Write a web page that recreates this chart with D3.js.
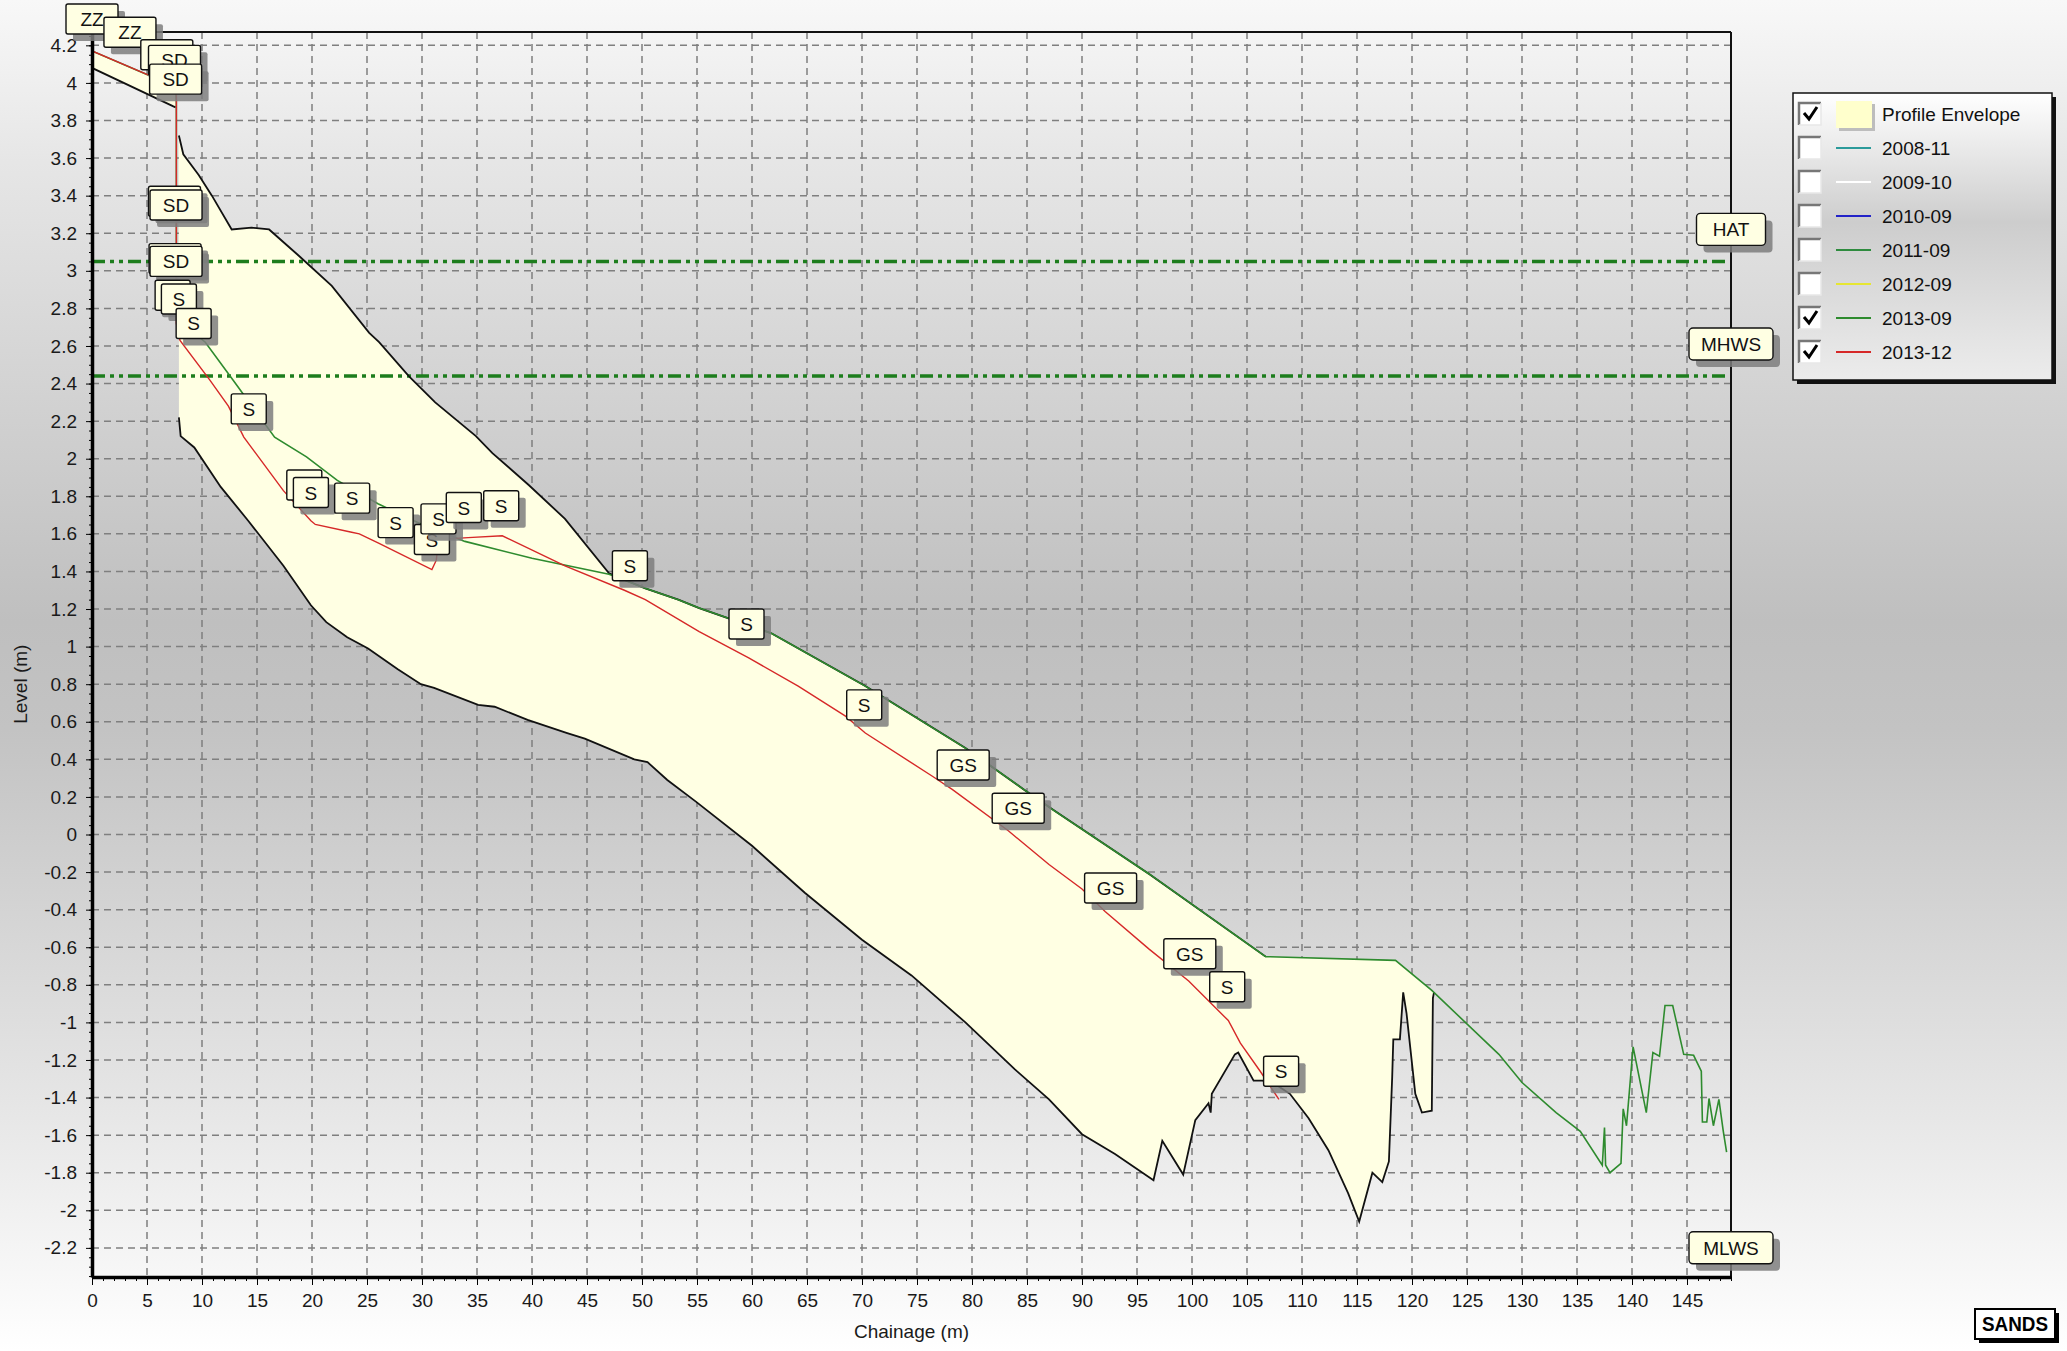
<!DOCTYPE html>
<html>
<head>
<meta charset="utf-8">
<script src="https://cdn.jsdelivr.net/npm/d3@7"></script>
<style>
body { margin: 0; overflow: hidden; background: #fff; }
text { font-family: "Liberation Sans", Arial, sans-serif; }
</style>
</head>
<body>
<svg id="chart" width="2067" height="1351"></svg>
<script>
// profile envelope (top-left wedge and main body)
var envWedgeTop = [[0, 4.17], [5.2, 4.04], [7.6, 3.98]];
var envWedgeBottom = [[0, 4.08], [7.4, 3.875], [7.6, 3.87]];
var envTop = [[7.9, 3.72], [8.3, 3.62], [9.7, 3.51], [10.9, 3.40], [12.7, 3.22], [14.5, 3.23], [16.1, 3.22],
    [18.8, 3.08], [21.8, 2.92], [25.2, 2.67], [26.1, 2.62], [28.8, 2.44], [31.2, 2.30], [34.9, 2.12], [36.4, 2.03],
    [39.7, 1.86], [43.0, 1.68], [47.0, 1.39], [50.3, 1.31], [53.3, 1.25], [55.2, 1.205], [61.8, 1.07], [70.3, 0.79],
    [79.4, 0.46], [84.8, 0.236], [87.4, 0.13], [96.1, -0.21], [106.7, -0.65], [118.5, -0.67], [121.8, -0.83], [122.0, -0.84]];
var envBottom = [[7.9, 2.22], [8.06, 2.12], [9.3, 2.06], [11.7, 1.85], [14.2, 1.67], [17.4, 1.43], [19.9, 1.22],
    [21.3, 1.13], [23.2, 1.05], [25.1, 0.99], [27.8, 0.88], [29.9, 0.80], [31.1, 0.78], [35.1, 0.69], [36.6, 0.68],
    [39.6, 0.61], [43.2, 0.54], [44.8, 0.51], [49.3, 0.40], [50.5, 0.385], [52.3, 0.29], [54.9, 0.175], [60.0, -0.06],
    [64.8, -0.31], [70.0, -0.56], [74.5, -0.75], [79.4, -1.0], [83.9, -1.25], [87.0, -1.41], [90.0, -1.595],
    [93.0, -1.70], [96.5, -1.84], [97.3, -1.63], [99.2, -1.81], [100.3, -1.52], [101.5, -1.43], [101.7, -1.48],
    [101.8, -1.38], [103.9, -1.17], [104.2, -1.16], [105.6, -1.31], [106.4, -1.31], [107.6, -1.33], [108.9, -1.38],
    [110.6, -1.51], [112.4, -1.68], [114.2, -1.91], [115.2, -2.06], [116.4, -1.80], [117.3, -1.85], [117.9, -1.74],
    [118.2, -1.29], [118.3, -1.09], [118.9, -1.09], [119.2, -0.84], [119.5, -0.95], [120.3, -1.38], [120.9, -1.48],
    [121.8, -1.47], [121.9, -0.87], [122.0, -0.84]];

// visible profiles
var prof201309 = [[0, 4.17], [5.2, 4.04], [7.6, 3.98], [7.67, 3.9], [7.67, 2.75], [8.6, 2.70], [10.3, 2.62],
    [12.8, 2.42], [16.6, 2.115], [19.5, 2.01], [22.3, 1.885], [26.0, 1.76], [30.0, 1.65], [33.9, 1.56], [40.0, 1.47],
    [47.0, 1.385], [50.3, 1.31], [53.3, 1.25], [55.2, 1.205], [61.8, 1.07], [70.3, 0.79], [79.4, 0.46], [84.8, 0.236],
    [87.4, 0.13], [96.1, -0.21], [106.7, -0.65], [118.5, -0.67], [121.8, -0.83], [127.9, -1.17], [130.0, -1.32],
    [133.1, -1.48], [135.3, -1.58], [137.3, -1.76], [137.5, -1.56], [137.6, -1.76], [138.0, -1.80], [139.0, -1.75],
    [139.2, -1.46], [139.5, -1.55], [140.1, -1.13], [141.3, -1.48], [141.9, -1.16], [142.5, -1.18], [143.0, -0.91],
    [143.7, -0.91], [144.7, -1.17], [145.6, -1.175], [146.3, -1.26], [146.4, -1.53], [146.8, -1.53], [147.0, -1.405],
    [147.4, -1.55], [147.9, -1.41], [148.3, -1.58], [148.6, -1.69]];
var prof201312 = [[0, 4.17], [5.2, 4.04], [7.6, 3.98], [7.67, 3.96], [7.67, 2.72], [8.0, 2.63], [10.7, 2.42],
    [12.4, 2.28], [13.8, 2.115], [17.4, 1.83], [19.9, 1.67], [20.3, 1.65], [23.5, 1.61], [24.3, 1.60], [26.1, 1.55],
    [30.9, 1.41], [31.3, 1.46], [31.5, 1.57], [34.2, 1.58], [37.3, 1.59], [43.0, 1.43], [48.4, 1.30], [50.3, 1.25],
    [55.2, 1.08], [59.7, 0.94], [64.2, 0.79], [68.5, 0.63], [70.3, 0.54], [76.4, 0.31], [78.2, 0.24], [83.3, 0.02],
    [87.0, -0.16], [90.0, -0.29], [92.1, -0.41], [96.1, -0.61], [99.7, -0.78], [103.3, -0.99], [104.4, -1.11],
    [106.2, -1.26], [107.9, -1.41]];

// sediment code labels: [chainage, level, code]
var sedLabels = [[0.0, 4.34, "ZZ"], [3.45, 4.27, "ZZ"], [6.8, 4.15, "SD"], [7.5, 4.12, "SD"], [7.6, 4.02, "SD"],
    [7.5, 3.37, "SD"], [7.64, 3.35, "SD"], [7.55, 3.065, "SD"], [7.64, 3.05, "SD"],
    [7.33, 2.87, "S"], [7.9, 2.85, "S"], [9.24, 2.72, "S"], [14.25, 2.265, "S"],
    [19.3, 1.86, "S"], [19.9, 1.82, "S"], [23.65, 1.79, "S"], [27.6, 1.66, "S"], [30.9, 1.57, "S"],
    [31.5, 1.68, "S"], [33.8, 1.74, "S"], [37.2, 1.75, "S"], [48.9, 1.43, "S"], [59.5, 1.12, "S"],
    [70.2, 0.69, "S"], [79.2, 0.37, "GS"], [84.2, 0.14, "GS"], [92.6, -0.285, "GS"], [99.8, -0.635, "GS"],
    [103.2, -0.81, "S"], [108.1, -1.26, "S"]];

// tide levels
var tideNames = ["HAT", "MHWS", "MLWS"];
var tideLevels = [3.05, 2.44, -2.37];

// legend
var legendNames = ["Profile Envelope", "2008-11", "2009-10", "2010-09", "2011-09", "2012-09", "2013-09", "2013-12"];
var legendColors = ["#ffffcc", "#2b9a9a", "#ffffff", "#2323c8", "#2e8b3e", "#e6e632", "#2e8b2e", "#d62828"];
var legendChecked = [true, false, false, false, false, false, true, true];

// ticks
var xTicks = d3.range(0, 150, 5);
var yTicks = d3.range(-11, 22).map(function (i) { return Math.round(i * 2) / 10; });

var W = 2067, H = 1351;
var margin = { top: 32, right: 336, bottom: 74, left: 92 };

var x = d3.scaleLinear().domain([0, 149]).range([margin.left, W - margin.right]);
var y = d3.scaleLinear().domain([-2.355, 4.271]).range([H - margin.bottom, margin.top]);

var svg = d3.select("#chart");
var defs = svg.append("defs");

// page background gradient
var bg = defs.append("linearGradient").attr("id", "bg").attr("x1", 0).attr("y1", 0).attr("x2", 0).attr("y2", 1);
[[0, "#f8f8f8"], [0.12, "#e6e6e6"], [0.46, "#bfbfbf"], [0.54, "#c3c3c3"], [0.82, "#e6e6e6"], [1, "#ffffff"]]
    .forEach(function (s) { bg.append("stop").attr("offset", s[0]).attr("stop-color", s[1]); });

var lg = defs.append("linearGradient").attr("id", "lg").attr("x1", 0).attr("y1", 0).attr("x2", 0).attr("y2", 1);
[[0, "#ffffff"], [0.45, "#cdcdcd"], [1, "#ececec"]]
    .forEach(function (s) { lg.append("stop").attr("offset", s[0]).attr("stop-color", s[1]); });

defs.append("clipPath").attr("id", "plot").append("rect")
    .attr("x", x(0)).attr("y", y.range()[1])
    .attr("width", x(149) - x(0)).attr("height", y.range()[0] - y.range()[1]);

svg.append("rect").attr("width", W).attr("height", H).attr("fill", "url(#bg)");

var x0 = x(0), x1 = x(149), yTop = y.range()[1], yBot = y.range()[0];

// grid
var grid = svg.append("g").attr("stroke", "#7f7f7f").attr("stroke-width", 1.5).attr("stroke-dasharray", "7,5");
grid.selectAll(".vg").data(xTicks.filter(function (d) { return d > 0; })).enter().append("line")
    .attr("x1", function (d) { return x(d); }).attr("x2", function (d) { return x(d); })
    .attr("y1", yTop).attr("y2", yBot);
grid.selectAll(".hg").data(yTicks).enter().append("line")
    .attr("x1", x0).attr("x2", x1)
    .attr("y1", function (d) { return y(d); }).attr("y2", function (d) { return y(d); });

var line = d3.line().x(function (d) { return x(d[0]); }).y(function (d) { return y(d[1]); });
var plot = svg.append("g").attr("clip-path", "url(#plot)");

// envelope fill
plot.append("path").attr("d", line(envWedgeTop.concat(envWedgeBottom.slice().reverse())) + "Z")
    .attr("fill", "#ffffe3");
plot.append("path").attr("d", line(envTop.concat(envBottom.slice().reverse())) + "Z")
    .attr("fill", "#ffffe3");

// tide lines
plot.selectAll(".tide").data(tideLevels).enter().append("line")
    .attr("x1", x0).attr("x2", x1)
    .attr("y1", function (d) { return y(d); }).attr("y2", function (d) { return y(d); })
    .attr("stroke", "#1d7d1d").attr("stroke-width", 3.5).attr("stroke-dasharray", "13,5,4,5,4,5");

// envelope outline
var outline = plot.append("g").attr("fill", "none").attr("stroke", "#111").attr("stroke-width", 1.8);
outline.append("path").attr("d", line(envWedgeBottom));
outline.append("path").attr("d", line(envTop.filter(function (d) { return d[0] <= 106.7; })));
outline.append("path").attr("d", line(envBottom));

// profiles
plot.append("path").attr("d", line(prof201309)).attr("fill", "none")
    .attr("stroke", legendColors[6]).attr("stroke-width", 1.6);
plot.append("path").attr("d", line(prof201312)).attr("fill", "none")
    .attr("stroke", legendColors[7]).attr("stroke-width", 1.4);

// frame
svg.append("line").attr("x1", x0).attr("x2", x1).attr("y1", yTop).attr("y2", yTop)
    .attr("stroke", "#111").attr("stroke-width", 2);
svg.append("line").attr("x1", x1).attr("x2", x1).attr("y1", yTop).attr("y2", yBot)
    .attr("stroke", "#111").attr("stroke-width", 2);

// axes
var fmt = function (d) { return String(Math.round(d * 10) / 10); };
var gx = svg.append("g").attr("transform", "translate(0," + yBot + ")")
    .call(d3.axisBottom(x).tickValues(xTicks).tickFormat(fmt).tickSize(8).tickPadding(9).tickSizeOuter(0));
svg.append("g").attr("transform", "translate(0," + yBot + ")")
    .call(d3.axisBottom(x).tickValues(d3.range(0, 150)).tickFormat("").tickSize(4).tickSizeOuter(0))
    .select(".domain").remove();
var gy = svg.append("g").attr("transform", "translate(" + x0 + ",0)")
    .call(d3.axisLeft(y).tickValues(yTicks).tickFormat(fmt).tickSize(6).tickPadding(9).tickSizeOuter(0));
svg.append("g").attr("transform", "translate(" + x0 + ",0)")
    .call(d3.axisLeft(y).tickValues(d3.range(-47, 86).map(function (i) { return i * 0.05; })).tickFormat("").tickSize(3).tickSizeOuter(0))
    .select(".domain").remove();
[gx, gy].forEach(function (g) {
    g.select(".domain").attr("stroke", "#000").attr("stroke-width", 3.5);
    g.selectAll("text").attr("font-size", 19).attr("fill", "#1a1a1a")
        .attr("font-family", "'Liberation Sans', Arial, sans-serif");
});

svg.append("text").attr("x", (x0 + x1) / 2).attr("y", 1338).attr("text-anchor", "middle")
    .attr("font-size", 19).attr("fill", "#1a1a1a").text("Chainage (m)");
svg.append("text").attr("transform", "translate(27," + y(0.8) + ") rotate(-90)").attr("text-anchor", "middle")
    .attr("font-size", 19).attr("fill", "#1a1a1a").text("Level (m)");

// label box helper
function labelBox(g, cx, cy, w, h, txt, rx) {
    g.append("rect").attr("x", cx - w / 2 + 7).attr("y", cy - h / 2 + 7).attr("width", w).attr("height", h)
        .attr("rx", rx).attr("fill", "#7e7e7e").attr("opacity", 0.85);
    g.append("rect").attr("x", cx - w / 2).attr("y", cy - h / 2).attr("width", w).attr("height", h)
        .attr("rx", rx).attr("fill", "#ffffe3").attr("stroke", "#111").attr("stroke-width", 1.4);
    g.append("text").attr("x", cx).attr("y", cy + 7).attr("text-anchor", "middle")
        .attr("font-size", 19).attr("fill", "#111").text(txt);
}

var labels = svg.append("g");
sedLabels.forEach(function (d) {
    var w = d[2].length === 1 ? 35 : 52;
    labelBox(labels, x(d[0]), y(d[1]), w, 30, d[2], 2);
});

tideNames.forEach(function (n, i) {
    var w = n.length * 15 + 24;
    labelBox(labels, x1, y(tideLevels[i]) - 32, w, 32, n, 4);
});

// legend
var leg = svg.append("g").attr("transform", "translate(1793,93)");
leg.append("rect").attr("x", 4).attr("y", 4).attr("width", 259).attr("height", 287).attr("fill", "#111");
leg.append("rect").attr("width", 259).attr("height", 287).attr("fill", "url(#lg)")
    .attr("stroke", "#111").attr("stroke-width", 1.5);
legendNames.forEach(function (n, i) {
    var cy = 21 + i * 34;
    var row = leg.append("g").attr("transform", "translate(0," + cy + ")");
    row.append("rect").attr("x", 6).attr("y", -11).attr("width", 22).attr("height", 22).attr("fill", "#fff");
    row.append("path").attr("d", "M6,11V-11H28").attr("fill", "none").attr("stroke", "#777").attr("stroke-width", 2.5);
    row.append("path").attr("d", "M28,-11V11H6").attr("fill", "none").attr("stroke", "#e8e8e8").attr("stroke-width", 1.5);
    if (legendChecked[i]) {
        row.append("path").attr("d", "M11,-1L16,5L24,-7").attr("fill", "none")
            .attr("stroke", "#000").attr("stroke-width", 3);
    }
    if (i === 0) {
        row.append("rect").attr("x", 46).attr("y", -10).attr("width", 36).attr("height", 27).attr("fill", "#bdbdbd");
        row.append("rect").attr("x", 43).attr("y", -13).attr("width", 36).attr("height", 27).attr("fill", legendColors[0]);
    } else {
        row.append("line").attr("x1", 43).attr("x2", 78).attr("y1", 0).attr("y2", 0)
            .attr("stroke", legendColors[i]).attr("stroke-width", 2);
    }
    row.append("text").attr("x", 89).attr("y", 7).attr("font-size", 19).attr("fill", "#111").text(n);
});

// logo
var logo = svg.append("g").attr("transform", "translate(1975,1309)");
logo.append("rect").attr("x", 4).attr("y", 4).attr("width", 80).attr("height", 30).attr("fill", "#000");
logo.append("rect").attr("width", 80).attr("height", 30).attr("fill", "#fff").attr("stroke", "#000").attr("stroke-width", 2);
logo.append("text").attr("x", 40).attr("y", 22).attr("text-anchor", "middle").attr("font-size", 20)
    .attr("font-weight", "bold").attr("textLength", 66).attr("lengthAdjust", "spacingAndGlyphs").text("SANDS");
</script>
</body>
</html>
